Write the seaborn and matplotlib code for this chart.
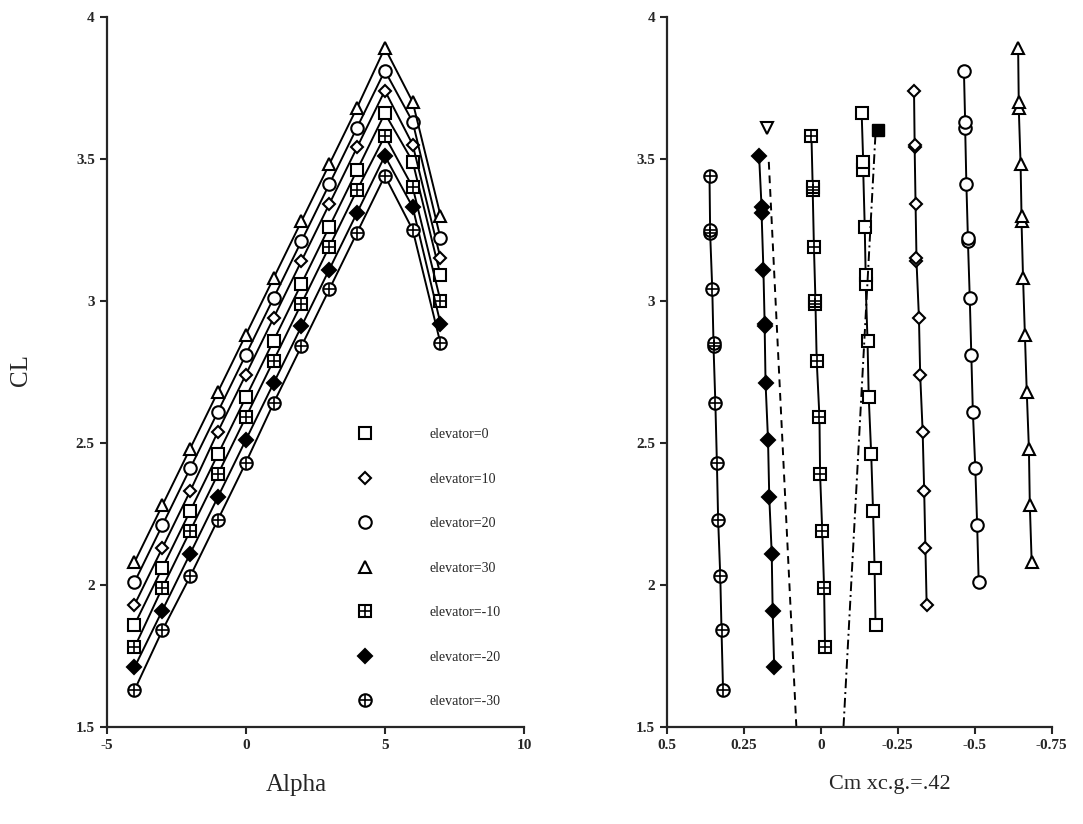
import numpy as np
import pandas as pd
import matplotlib
matplotlib.use("Agg")
import matplotlib.pyplot as plt
import seaborn as sns
from matplotlib.lines import Line2D
from matplotlib.ticker import FuncFormatter

# angle of attack (deg)
alpha = [-4, -3, -2, -1, 0, 1, 2, 3, 4, 5, 6, 7]

# CL, one list per elevator setting
cl_e0 = [1.86, 2.06, 2.26, 2.46, 2.66, 2.86, 3.06, 3.26, 3.46, 3.66, 3.49, 3.09]
cl_e10 = [1.93, 2.13, 2.33, 2.54, 2.74, 2.94, 3.14, 3.34, 3.54, 3.74, 3.55, 3.15]
cl_e20 = [2.01, 2.21, 2.41, 2.61, 2.81, 3.01, 3.21, 3.41, 3.61, 3.81, 3.63, 3.22]
cl_e30 = [2.08, 2.28, 2.48, 2.68, 2.88, 3.08, 3.28, 3.48, 3.68, 3.89, 3.70, 3.30]
cl_em10 = [1.78, 1.99, 2.19, 2.39, 2.59, 2.79, 2.99, 3.19, 3.39, 3.58, 3.40, 3.00]
cl_em20 = [1.71, 1.91, 2.11, 2.31, 2.51, 2.71, 2.91, 3.11, 3.31, 3.51, 3.33, 2.92]
cl_em30 = [1.63, 1.84, 2.03, 2.23, 2.43, 2.64, 2.84, 3.04, 3.24, 3.44, 3.25, 2.85]

# Cm (xc.g.=.42), same point order
cm_e0 = [-0.178, -0.175, -0.170, -0.164, -0.156, -0.152, -0.146, -0.143, -0.138, -0.133, -0.138, -0.146]
cm_e10 = [-0.344, -0.340, -0.336, -0.331, -0.323, -0.319, -0.311, -0.308, -0.305, -0.303, -0.305, -0.311]
cm_e20 = [-0.513, -0.508, -0.502, -0.494, -0.489, -0.484, -0.478, -0.473, -0.469, -0.465, -0.469, -0.478]
cm_e30 = [-0.685, -0.679, -0.676, -0.669, -0.663, -0.657, -0.652, -0.649, -0.643, -0.641, -0.643, -0.652]
cm_em10 = [-0.014, -0.011, -0.005, 0.002, 0.004, 0.013, 0.017, 0.022, 0.026, 0.030, 0.026, 0.017]
cm_em20 = [0.151, 0.156, 0.159, 0.167, 0.171, 0.179, 0.182, 0.186, 0.192, 0.200, 0.192, 0.182]
cm_em30 = [0.317, 0.322, 0.326, 0.333, 0.337, 0.342, 0.348, 0.352, 0.359, 0.361, 0.359, 0.348]

# the two trim lines on the right panel (end marker + line)
trim_dash_cm = [0.169, 0.079]
trim_dash_cl = [3.50, 1.5]
trim_dash_mark = (0.175, 3.61)
trim_dashdot_cm = [-0.178, -0.074]
trim_dashdot_cl = [3.59, 1.5]
trim_dashdot_mark = (-0.186, 3.60)

labels = ["elevator=0", "elevator=10", "elevator=20", "elevator=30",
          "elevator=-10", "elevator=-20", "elevator=-30"]
cl_all = [cl_e0, cl_e10, cl_e20, cl_e30, cl_em10, cl_em20, cl_em30]
cm_all = [cm_e0, cm_e10, cm_e20, cm_e30, cm_em10, cm_em20, cm_em30]

# marker style per series: (marker, size, filled, plus overlay)
styles = [("s", 9, False, False), ("D", 6.5, False, False), ("o", 9, False, False),
          ("^", 8, False, False), ("s", 9, False, True), ("D", 7, True, False),
          ("o", 9, False, True)]

sns.set_style("ticks")
plt.rcParams["font.family"] = ["Liberation Serif", "DejaVu Serif"]
plt.rcParams["axes.linewidth"] = 1.6
plt.rcParams["xtick.major.width"] = 1.5
plt.rcParams["ytick.major.width"] = 1.5
plt.rcParams["xtick.major.size"] = 5
plt.rcParams["ytick.major.size"] = 5

fig = plt.figure(figsize=(10.83, 8.24), dpi=100)
ax1 = fig.add_axes([0.0985, 0.1177, 0.3853, 0.862])
ax2 = fig.add_axes([0.6156, 0.1177, 0.3555, 0.862])

rows = []
for lab, cl, cm in zip(labels, cl_all, cm_all):
    for a, c, m in zip(alpha, cl, cm):
        rows.append({"series": lab, "alpha": a, "CL": c, "Cm": m})
df = pd.DataFrame(rows)

handles = []
for lab, (mk, ms, filled, plus) in zip(labels, styles):
    d = df[df["series"] == lab]
    face = "black" if filled else "white"
    common = dict(color="black", lw=1.4, marker=mk, markersize=ms,
                  markerfacecolor=face, markeredgecolor="black",
                  markeredgewidth=1.5, estimator=None, legend=False)
    sns.lineplot(data=d, x="alpha", y="CL", ax=ax1, sort=False, **common)
    sns.lineplot(data=d, x="Cm", y="CL", ax=ax2, orient="y", **common)
    h = Line2D([], [], ls="none", marker=mk, markersize=ms, markerfacecolor=face,
               markeredgecolor="black", markeredgewidth=1.5)
    if plus:
        for ax, xc in ((ax1, "alpha"), (ax2, "Cm")):
            ax.plot(d[xc], d["CL"], ls="none", marker="+", markersize=ms,
                    markeredgewidth=1.2, color="black", zorder=5)
        h = (h, Line2D([], [], ls="none", marker="+", markersize=ms,
                       markeredgewidth=1.2, color="black"))
    handles.append(h)

# trim lines
sns.lineplot(x=trim_dash_cm, y=trim_dash_cl, ax=ax2, color="black", lw=1.4,
             estimator=None, orient="y")
ax2.lines[-1].set_linestyle((0, (4, 3)))
ax2.plot(*trim_dash_mark, marker="v", markersize=8, markerfacecolor="white",
         markeredgecolor="black", markeredgewidth=1.5, zorder=6)
sns.lineplot(x=trim_dashdot_cm, y=trim_dashdot_cl, ax=ax2, color="black", lw=1.4,
             estimator=None, orient="y")
ax2.lines[-1].set_linestyle((0, (5, 2, 1, 2)))
ax2.plot(*trim_dashdot_mark, marker="s", markersize=8, markerfacecolor="black",
         markeredgecolor="black", zorder=6)

fmt = FuncFormatter(lambda v, p: ("%g" % v))
for ax in (ax1, ax2):
    ax.set_ylim(1.5, 4)
    ax.set_yticks([1.5, 2, 2.5, 3, 3.5, 4])
    ax.yaxis.set_major_formatter(fmt)
    ax.xaxis.set_major_formatter(fmt)
    ax.tick_params(labelsize=11, direction="out")
    ax.set_ylabel("")
    sns.despine(ax=ax)

ax1.set_xlim(-5, 10)
ax1.set_xticks([-5, 0, 5, 10])
ax2.set_xlim(0.5, -0.75)
ax2.set_xticks([0.5, 0.25, 0, -0.25, -0.5, -0.75])
for ax in (ax1, ax2):
    for t in ax.get_xticklabels() + ax.get_yticklabels():
        t.set_fontweight("bold")

ax1.set_xlabel("Alpha", fontsize=18)
ax1.xaxis.set_label_coords(0.454, -0.066)
ax1.set_ylabel("CL", fontsize=18)
ax1.yaxis.set_label_coords(-0.178, 0.503)
ax2.set_xlabel("Cm xc.g.=.42", fontsize=16)
ax2.xaxis.set_label_coords(0.58, -0.068)

ax1.legend(handles=handles, labels=labels, loc="upper left",
           bbox_to_anchor=(0.585, 0.421), frameon=False, fontsize=10,
           labelspacing=2.27, handlelength=2, handletextpad=3.7,
           borderpad=0, borderaxespad=0, numpoints=1)

fig.savefig("out.png", dpi=100)
